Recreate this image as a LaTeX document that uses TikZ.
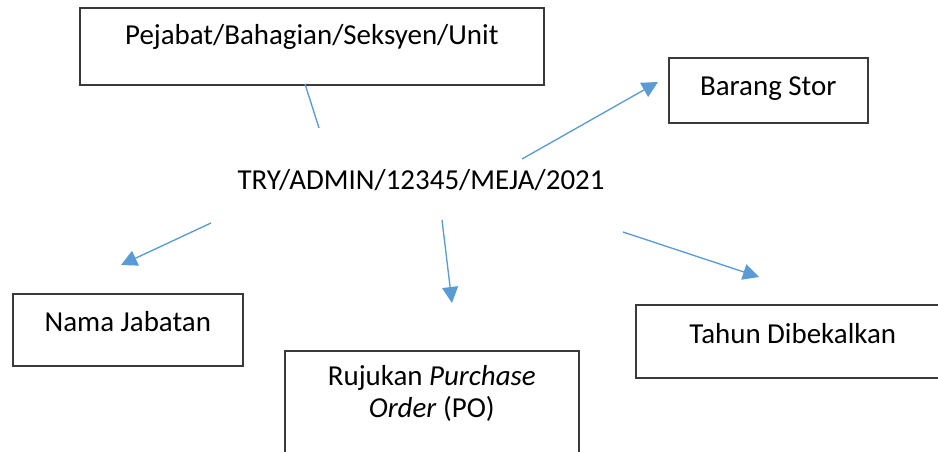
\documentclass[tikz,border=0pt]{standalone}
\usepackage{fontspec}
\setmainfont{Carlito}
\usetikzlibrary{arrows.meta}
\definecolor{biru}{HTML}{5B9BD5}
\definecolor{kelabu}{HTML}{3A3A3A}
\tikzset{
	teks/.style={font=\fontsize{21.7}{24}\selectfont},
	kotak/.style={teks, draw=kelabu, line width=1.2pt, anchor=north west, inner sep=0pt, text height=28.5pt},
	garis/.style={biru, line width=1pt},
	panah/.style={garis, -{Triangle[length=12pt,width=12pt]}}
}
\begin{document}
\begin{tikzpicture}[x=0.75pt,y=-0.75pt]
			\useasboundingbox (0,0) rectangle (938,452);
			\node[kotak, minimum width=348pt, text height=27.75pt, text depth=30pt] (pejabat) at (79,7) {Pejabat/Bahagian/Seksyen/Unit};
			\node[kotak, minimum width=149.25pt, text depth=20.25pt] (stor) at (668,57) {Barang Stor};
			\node[kotak, minimum width=172.5pt, text depth=25.5pt] (jabatan) at (12,293) {Nama Jabatan};
			\node[kotak, minimum width=235.5pt, text height=29.25pt, text depth=25.5pt] (tahun) at (635,304) {Tahun Dibekalkan};
			\node[kotak, minimum width=220.5pt, text height=26.25pt, text depth=63.75pt] (po) at (284,350) {\begin{tabular}[t]{@{}c@{}}Rujukan \textit{Purchase}\\\textit{Order} (PO)\end{tabular}};
			\node[teks, anchor=base] (nombor) at (421,190) {TRY/ADMIN/12345/MEJA/2021};
			\coordinate (pejabat-a) at (305,84);
			\coordinate (pejabat-b) at (319,128);
			\coordinate (stor-a) at (522,159);
			\coordinate (stor-b) at (658,82);
			\coordinate (jabatan-a) at (211,223);
			\coordinate (jabatan-b) at (121,265);
			\coordinate (po-a) at (442,220);
			\coordinate (po-b) at (452,303);
			\coordinate (tahun-a) at (623,232);
			\coordinate (tahun-b) at (759,277);
			\draw[garis] (pejabat-a) -- (pejabat-b);
			\draw[panah] (stor-a) -- (stor-b);
			\draw[panah] (jabatan-a) -- (jabatan-b);
			\draw[panah] (po-a) -- (po-b);
			\draw[panah] (tahun-a) -- (tahun-b);
		\end{tikzpicture}
\end{document}
